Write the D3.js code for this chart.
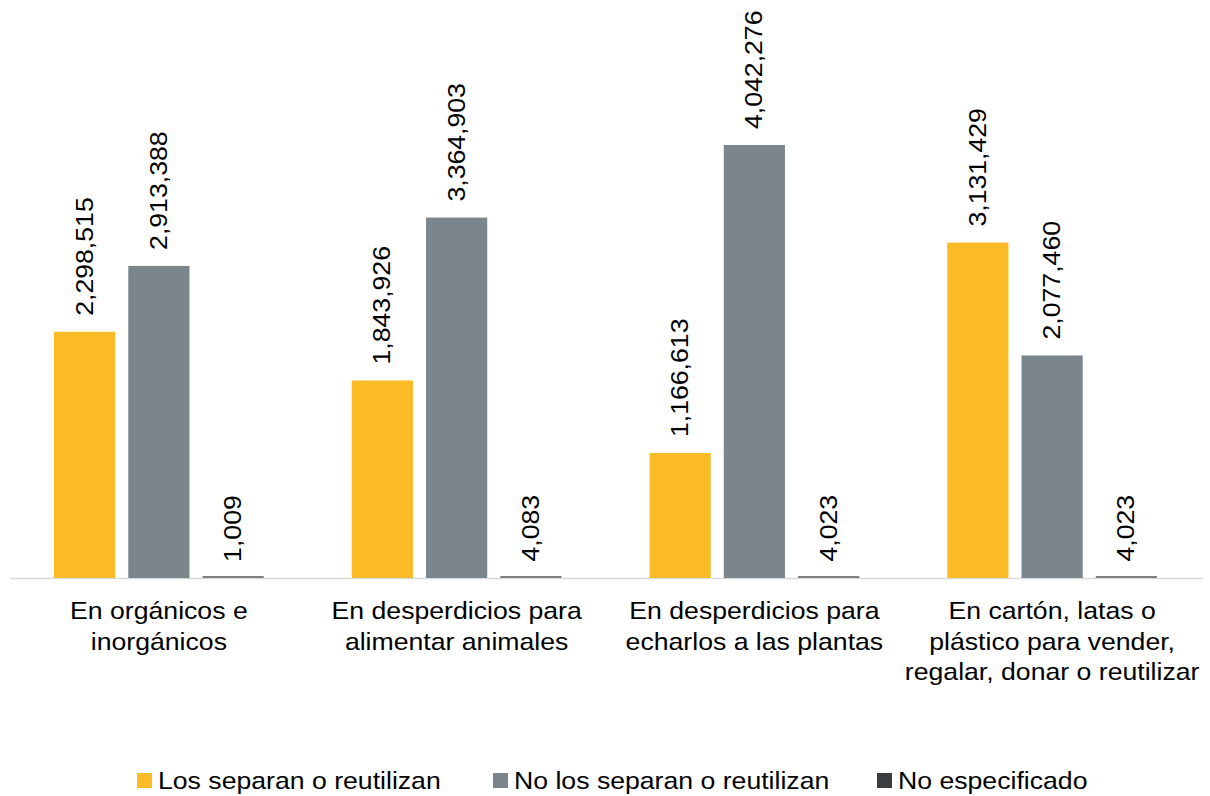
<!DOCTYPE html>
<html>
<head>
<meta charset="utf-8">
<script src="https://cdn.jsdelivr.net/npm/d3@7"></script>
<style>
  body { margin: 0; background: #fff; }
  text { font-family: "Liberation Sans", Arial, sans-serif; fill: #000; }
</style>
</head>
<body>
<div id="chart"></div>
<script>
const categories = [
  ["En orgánicos e", "inorgánicos"],
  ["En desperdicios para", "alimentar animales"],
  ["En desperdicios para", "echarlos a las plantas"],
  ["En cartón, latas o", "plástico para vender,", "regalar, donar o reutilizar"]
];
const seriesNames = ["Los separan o reutilizan", "No los separan o reutilizan", "No especificado"];
const separan = [2298515, 1843926, 1166613, 3131429];
const noSeparan = [2913388, 3364903, 4042276, 2077460];
const noEspecificado = [1009, 4083, 4023, 4023];
const colors = ["#fbbb27", "#7b868c", "#3b3e41"];

const width = 1210;
const height = 796;
const baseY = 578;
const stretch = 1.11; // glyphs in the reference run a bit wider than Liberation Sans

const svg = d3.select('#chart')
  .append('svg')
  .attr('width', width)
  .attr('height', height)

const series = [separan, noSeparan, noEspecificado];
const data = categories.map((c, i) => ({ i, values: series.map(s => s[i]) }));

const x0 = d3.scaleBand()
  .domain(d3.range(categories.length))
  .range([10, 1201])

const x1 = d3.scaleBand()
  .domain(d3.range(series.length))
  .range([44, x0.bandwidth() - 44])
  .paddingInner(0.176)

const y = d3.scaleLinear()
  .domain([0, 4500000])
  .range([baseY, baseY - 4500000 / 9335])

const fmt = d3.format(',');

// baseline
svg.append('line')
  .attr('x1', 10).attr('x2', 1203)
  .attr('y1', baseY + 0.5).attr('y2', baseY + 0.5)
  .attr('stroke', '#d9d9d9')
  .attr('stroke-width', 1.5)

const groups = svg.selectAll('g.grp')
  .data(data)
  .enter()
  .append('g')
  .attr('class', 'grp')
  .attr('transform', d => `translate(${x0(d.i)},0)`)

groups.selectAll('rect')
  .data(d => d.values.map((v, k) => ({ v, k })))
  .enter()
  .append('rect')
  .attr('x', d => x1(d.k))
  .attr('y', d => Math.min(y(d.v), baseY - 2))
  .attr('width', x1.bandwidth())
  .attr('height', d => Math.max(baseY - y(d.v), 2))
  .style('fill', d => d.k === 2 ? '#7f7f7f' : colors[d.k])

groups.selectAll('text.val')
  .data(d => d.values.map((v, k) => ({ v, k })))
  .enter()
  .append('text')
  .attr('class', 'val')
  .attr('transform', d => `translate(${x1(d.k) + x1.bandwidth() / 2 + 8},${Math.min(y(d.v), baseY) - 16}) rotate(-90) scale(${stretch},1)`)
  .attr('text-anchor', 'start')
  .style('font-size', '24px')
  .text(d => fmt(d.v))

// category labels
groups.each(function(d) {
  categories[d.i].forEach((line, j) => {
    d3.select(this).append('text')
      .attr('text-anchor', 'middle')
      .attr('transform', `translate(${x0.bandwidth() / 2},${619 + j * 30.5}) scale(${stretch},1)`)
      .style('font-size', '24px')
      .text(line)
  })
})

// legend
const legendX = [137, 493, 877];
const legend = svg.selectAll('g.leg')
  .data(seriesNames)
  .enter()
  .append('g')
  .attr('class', 'leg')
  .attr('transform', (d, i) => `translate(${legendX[i]},773)`)

legend.append('rect')
  .attr('width', 15)
  .attr('height', 15)
  .style('fill', (d, i) => colors[i])

legend.append('text')
  .attr('transform', `translate(21,16) scale(${stretch},1)`)
  .style('font-size', '24px')
  .text(d => d)
</script>
</body>
</html>
